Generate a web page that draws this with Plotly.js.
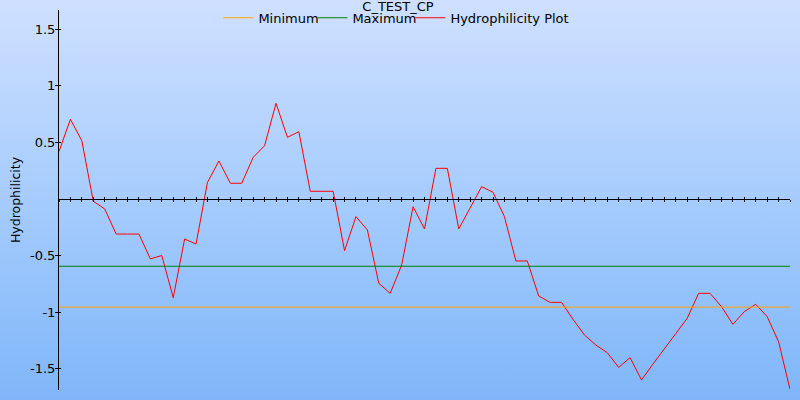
<!DOCTYPE html>
<html>
<head>
<meta charset="utf-8">
<script src="https://cdn.plot.ly/plotly-3.0.1.min.js"></script>
<style>
  html, body { margin: 0; padding: 0; }
  body { width: 800px; height: 400px; background: linear-gradient(to bottom, #cfe0ff 0%, #a6ccfd 50%, #7fb6f9 100%); }
  #chart { width: 800px; height: 400px; }
</style>
</head>
<body>
<div id="chart"></div>
<script>
const chartTitle = "C_TEST_CP";
const yAxisTitle = "Hydrophilicity";
const seriesNames = ["Minimum", "Maximum", "Hydrophilicity Plot"];
const yTickValues = [-1.5, -1, -0.5, 0.5, 1, 1.5];
const yTickLabels = ["-1.5", "-1", "-0.5", "0.5", "1", "1.5"];
const minimumValue = -0.956;
const maximumValue = -0.595;
const hydrophilicity = [
  0.42, 0.705, 0.515, -0.02, -0.088, -0.31, -0.31, -0.31, -0.53, -0.50,
  -0.873, -0.354, -0.398, 0.147, 0.336, 0.139, 0.139, 0.368, 0.471, 0.846,
  0.545, 0.595, 0.068, 0.068, 0.068, -0.457, -0.156, -0.274, -0.746, -0.834,
  -0.584, -0.068, -0.265, 0.271, 0.271, -0.265, -0.078, 0.109, 0.059, -0.156,
  -0.548, -0.548, -0.858, -0.914, -0.914, -1.064, -1.202, -1.291, -1.359, -1.489,
  -1.403, -1.6, -1.46, -1.32, -1.19, -1.055, -0.834, -0.834, -0.952, -1.108,
  -0.996, -0.931, -1.04, -1.262, -1.683
];

const positions = hydrophilicity.map((_, i) => i);
const lastPos = positions[positions.length - 1];
const xRange = [0, lastPos];
const yRange = [-1.689, 1.671];
const zeroFrac = (0 - yRange[0]) / (yRange[1] - yRange[0]);
const font = "DejaVu Sans, Verdana, sans-serif";

const traces = [
  {x: [positions[0], lastPos], y: [minimumValue, minimumValue], name: seriesNames[0],
   mode: "lines", line: {color: "#ffa500", width: 1}, xaxis: "x2", yaxis: "y2", legendwidth: 49},
  {x: [positions[0], lastPos], y: [maximumValue, maximumValue], name: seriesNames[1],
   mode: "lines", line: {color: "#008000", width: 1}, xaxis: "x2", yaxis: "y2", legendwidth: 53},
  {x: positions, y: hydrophilicity, name: seriesNames[2],
   mode: "lines", line: {color: "#ff0000", width: 1}, xaxis: "x", yaxis: "y"}
];

const layout = {
  width: 800, height: 400,
  paper_bgcolor: "rgba(0,0,0,0)", plot_bgcolor: "rgba(0,0,0,0)",
  margin: {l: 59, r: 10, t: 10, b: 10, autoexpand: false},
  font: {family: font, size: 13, color: "#000"},
  title: {text: chartTitle, font: {family: font, size: 13, color: "#000"},
          x: 0.4975, xanchor: "center", xref: "container", y: 0.983, yanchor: "middle", yref: "container"},
  showlegend: true,
  legend: {orientation: "h", xref: "container", yref: "container", x: 0.273, xanchor: "left",
           y: 0.993, yanchor: "top", bgcolor: "rgba(0,0,0,0)", font: {family: font, size: 13, color: "#000"},
           traceorder: "normal"},
  xaxis: {range: xRange, anchor: "free", position: zeroFrac, showline: true, linecolor: "#000", linewidth: 1,
          ticks: "outside", ticklen: 2, tickcolor: "#000", tickwidth: 1, tick0: 0, dtick: 1,
          showticklabels: false, showgrid: false, zeroline: false, fixedrange: true},
  xaxis2: {range: xRange, overlaying: "x", anchor: "free", position: zeroFrac, showline: false,
           ticks: "inside", ticklen: 2, tickcolor: "#000", tickwidth: 1, tick0: 0, dtick: 1,
           showticklabels: false, showgrid: false, zeroline: false},
  yaxis: {range: yRange, showline: true, linecolor: "#000", linewidth: 1,
          ticks: "inside", ticklen: 2, tickcolor: "#000", tickwidth: 1,
          tickmode: "array", tickvals: yTickValues, ticktext: yTickLabels,
          tickfont: {family: font, size: 13, color: "#000"},
          showgrid: false, zeroline: false,
          title: {text: yAxisTitle, font: {family: font, size: 12.5, color: "#000"}, standoff: 6}},
  yaxis2: {range: yRange, overlaying: "y", anchor: "x2", side: "left", showline: false,
           ticks: "outside", ticklen: 3, tickcolor: "#000", tickwidth: 1,
           tickmode: "array", tickvals: yTickValues, showticklabels: false,
           showgrid: false, zeroline: false}
};

Plotly.newPlot("chart", traces, layout, {displayModeBar: false, staticPlot: true});
</script>
</body>
</html>
